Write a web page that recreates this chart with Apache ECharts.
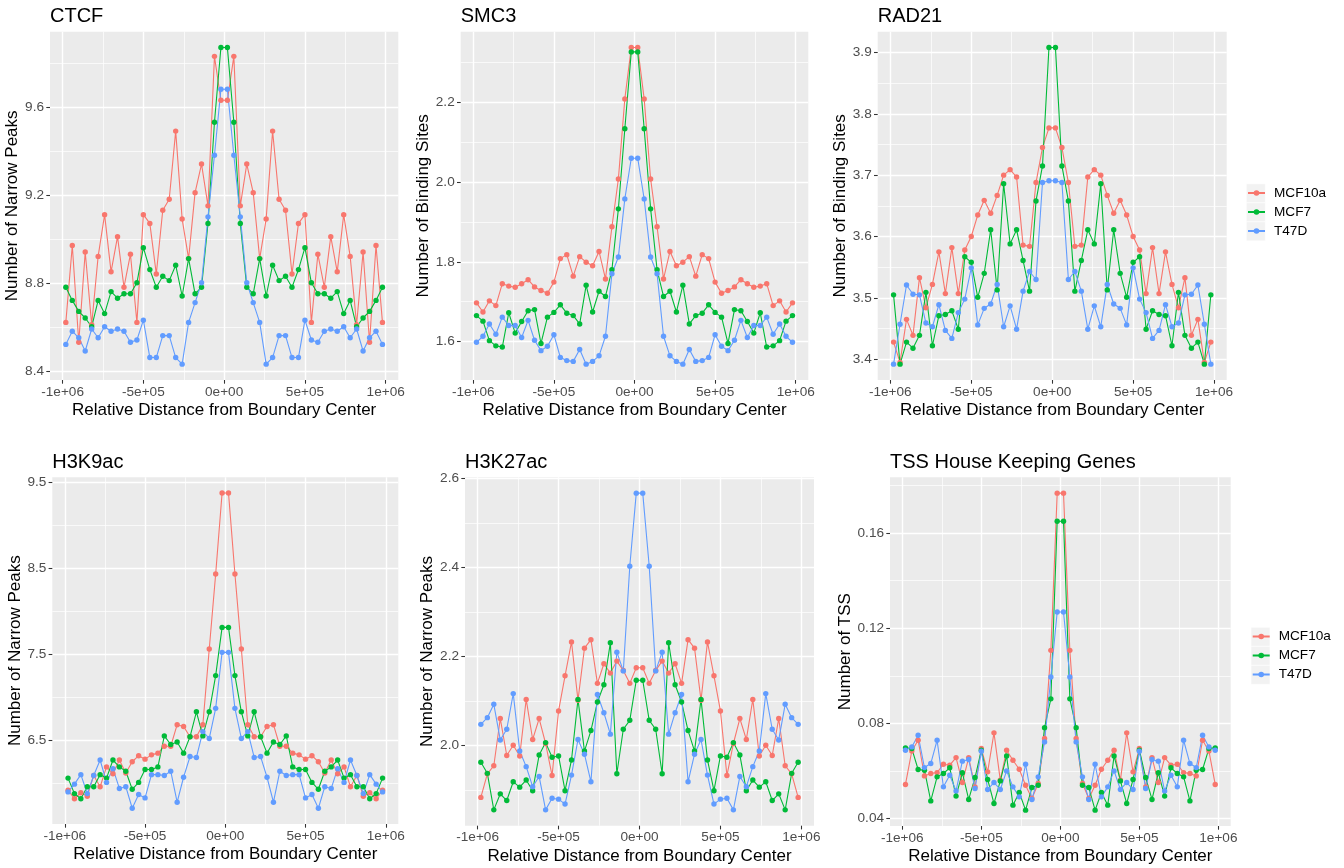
<!DOCTYPE html>
<html>
<head>
<meta charset="utf-8">
<title>Boundary profiles</title>
<script src="https://cdn.jsdelivr.net/npm/echarts@6.0.0/dist/echarts.min.js"></script>
<style>
  html, body { margin: 0; padding: 0; background: #fff; }
  #chart { width: 1344px; height: 868px; }
</style>
</head>
<body>
<div id="chart"></div>
<script>
// relative distance of each bin centre from the boundary
const distances = [-980000, -940000, -900000, -860000, -820000, -780000, -740000, -700000, -660000, -620000,
  -580000, -540000, -500000, -460000, -420000, -380000, -340000, -300000, -260000, -220000,
  -180000, -140000, -100000, -60000, -20000, 20000, 60000, 100000, 140000, 180000,
  220000, 260000, 300000, 340000, 380000, 420000, 460000, 500000, 540000, 580000,
  620000, 660000, 700000, 740000, 780000, 820000, 860000, 900000, 940000, 980000]

const cellLines = ['MCF10a', 'MCF7', 'T47D']
const colors = ['#F8766D', '#00BA38', '#619CFF']

const xTickValues = [-1000000, -500000, 0, 500000, 1000000]
const xTickLabels = ['-1e+06', '-5e+05', '0e+00', '5e+05', '1e+06']

// CTCF
const ctcfMCF10a = [8.62, 8.97, 8.53, 8.94, 8.61, 8.92, 9.11, 8.85, 9.01, 8.78, 8.93, 8.62, 9.11, 9.07, 8.84, 9.13, 9.18, 9.49, 9.09, 8.91, 9.21, 9.34, 9.15, 9.83, 9.63,
  9.63, 9.83, 9.15, 9.34, 9.21, 8.91, 9.09, 9.49, 9.18, 9.13, 8.84, 9.07, 9.11, 8.62, 8.93, 8.78, 9.01, 8.85, 9.11, 8.92, 8.61, 8.94, 8.53, 8.97, 8.62]
const ctcfMCF7 = [8.78, 8.72, 8.67, 8.64, 8.60, 8.72, 8.66, 8.76, 8.73, 8.75, 8.75, 8.80, 8.96, 8.86, 8.78, 8.83, 8.81, 8.88, 8.74, 8.91, 8.75, 8.78, 9.07, 9.53, 9.87,
  9.87, 9.53, 9.07, 8.78, 8.75, 8.91, 8.74, 8.88, 8.81, 8.83, 8.78, 8.86, 8.96, 8.80, 8.75, 8.75, 8.73, 8.76, 8.66, 8.72, 8.60, 8.64, 8.67, 8.72, 8.78]
const ctcfT47D = [8.52, 8.58, 8.55, 8.49, 8.59, 8.55, 8.60, 8.58, 8.59, 8.58, 8.53, 8.54, 8.63, 8.46, 8.46, 8.56, 8.56, 8.46, 8.43, 8.62, 8.71, 8.80, 9.10, 9.38, 9.68,
  9.68, 9.38, 9.10, 8.80, 8.71, 8.62, 8.43, 8.46, 8.56, 8.56, 8.46, 8.46, 8.63, 8.54, 8.53, 8.58, 8.59, 8.58, 8.60, 8.55, 8.59, 8.49, 8.55, 8.58, 8.52]
const ctcfTicks = ['8.4', '8.8', '9.2', '9.6']

// SMC3
const smc3MCF10a = [1.697, 1.674, 1.702, 1.690, 1.745, 1.739, 1.736, 1.745, 1.755, 1.737, 1.728, 1.721, 1.749, 1.808, 1.818, 1.764, 1.813, 1.799, 1.790, 1.826, 1.757, 1.888, 2.008, 2.209, 2.338,
  2.338, 2.209, 2.008, 1.888, 1.757, 1.826, 1.790, 1.799, 1.813, 1.764, 1.818, 1.808, 1.749, 1.721, 1.728, 1.737, 1.755, 1.745, 1.736, 1.739, 1.745, 1.690, 1.702, 1.674, 1.697]
const smc3MCF7 = [1.665, 1.651, 1.602, 1.589, 1.586, 1.672, 1.621, 1.650, 1.677, 1.680, 1.595, 1.661, 1.673, 1.692, 1.671, 1.665, 1.644, 1.741, 1.674, 1.726, 1.713, 1.780, 1.933, 2.134, 2.327,
  2.327, 2.134, 1.933, 1.780, 1.713, 1.726, 1.674, 1.741, 1.644, 1.665, 1.671, 1.692, 1.673, 1.661, 1.595, 1.680, 1.677, 1.650, 1.621, 1.672, 1.586, 1.589, 1.602, 1.651, 1.665]
const smc3T47D = [1.598, 1.613, 1.644, 1.618, 1.661, 1.640, 1.640, 1.610, 1.653, 1.603, 1.577, 1.588, 1.617, 1.560, 1.552, 1.550, 1.580, 1.543, 1.550, 1.564, 1.613, 1.770, 1.812, 1.958, 2.060,
  2.060, 1.958, 1.812, 1.770, 1.613, 1.564, 1.550, 1.543, 1.580, 1.550, 1.552, 1.560, 1.617, 1.588, 1.577, 1.603, 1.653, 1.610, 1.640, 1.640, 1.661, 1.618, 1.644, 1.613, 1.598]
const smc3Ticks = ['1.6', '1.8', '2.0', '2.2']

// RAD21
const rad21MCF10a = [3.428, 3.395, 3.465, 3.439, 3.533, 3.484, 3.522, 3.575, 3.507, 3.582, 3.507, 3.578, 3.600, 3.635, 3.659, 3.638, 3.667, 3.700, 3.709, 3.697, 3.586, 3.584, 3.688, 3.745, 3.777,
  3.777, 3.745, 3.688, 3.584, 3.586, 3.697, 3.709, 3.700, 3.667, 3.638, 3.659, 3.635, 3.600, 3.578, 3.507, 3.582, 3.507, 3.575, 3.522, 3.484, 3.533, 3.439, 3.465, 3.395, 3.428]
const rad21MCF7 = [3.505, 3.392, 3.428, 3.418, 3.439, 3.509, 3.422, 3.471, 3.473, 3.479, 3.449, 3.567, 3.558, 3.501, 3.540, 3.611, 3.513, 3.686, 3.588, 3.611, 3.561, 3.511, 3.658, 3.715, 3.908,
  3.908, 3.715, 3.658, 3.511, 3.561, 3.611, 3.588, 3.686, 3.513, 3.611, 3.540, 3.501, 3.558, 3.567, 3.449, 3.479, 3.473, 3.471, 3.422, 3.509, 3.439, 3.418, 3.428, 3.392, 3.505]
const rad21T47D = [3.392, 3.457, 3.521, 3.506, 3.505, 3.459, 3.453, 3.489, 3.447, 3.434, 3.476, 3.498, 3.549, 3.456, 3.483, 3.490, 3.522, 3.453, 3.487, 3.449, 3.511, 3.543, 3.530, 3.688, 3.691,
  3.691, 3.688, 3.530, 3.543, 3.511, 3.449, 3.487, 3.453, 3.522, 3.490, 3.483, 3.456, 3.549, 3.498, 3.476, 3.434, 3.447, 3.489, 3.453, 3.459, 3.505, 3.506, 3.521, 3.457, 3.392]
const rad21Ticks = ['3.4', '3.5', '3.6', '3.7', '3.8', '3.9']

// H3K9ac
const h3k9MCF10a = [5.92, 5.82, 5.89, 5.85, 6.09, 5.96, 6.19, 6.11, 6.27, 6.12, 6.25, 6.32, 6.28, 6.33, 6.35, 6.43, 6.43, 6.68, 6.66, 6.54, 6.54, 6.68, 7.56, 8.43, 9.37,
  9.37, 8.43, 7.56, 6.68, 6.54, 6.54, 6.66, 6.68, 6.43, 6.43, 6.35, 6.33, 6.28, 6.32, 6.25, 6.12, 6.27, 6.11, 6.19, 5.96, 6.09, 5.85, 5.89, 5.82, 5.92]
const h3k9MCF7 = [6.06, 5.88, 5.82, 5.96, 5.96, 6.10, 6.06, 6.27, 6.19, 6.14, 5.93, 6.01, 6.16, 6.16, 6.19, 6.55, 6.45, 6.48, 6.35, 6.54, 6.83, 6.55, 6.83, 7.25, 7.81,
  7.81, 7.25, 6.83, 6.55, 6.83, 6.54, 6.35, 6.48, 6.45, 6.55, 6.19, 6.16, 6.16, 6.01, 5.93, 6.14, 6.19, 6.27, 6.06, 6.10, 5.96, 5.96, 5.82, 5.88, 6.06]
const h3k9T47D = [5.90, 5.99, 6.10, 5.88, 6.09, 6.27, 6.01, 6.17, 5.94, 5.96, 5.71, 5.87, 5.83, 6.10, 6.10, 6.09, 6.14, 5.78, 6.07, 6.31, 6.30, 6.60, 6.52, 6.87, 7.52,
  7.52, 6.87, 6.52, 6.60, 6.30, 6.31, 6.07, 5.78, 6.14, 6.09, 6.10, 6.10, 5.83, 5.87, 5.71, 5.96, 5.94, 6.17, 6.01, 6.27, 6.09, 5.88, 6.10, 5.99, 5.90]
const h3k9Ticks = ['6.5', '7.5', '8.5', '9.5']

// H3K27ac
const h3k27MCF10a = [1.884, 1.937, 1.955, 2.061, 1.978, 2.001, 1.977, 2.104, 2.014, 2.061, 2.005, 1.933, 2.078, 2.157, 2.233, 2.102, 2.219, 2.238, 2.140, 2.184, 2.163, 2.190, 2.169, 2.140, 2.175,
  2.175, 2.140, 2.169, 2.190, 2.163, 2.184, 2.140, 2.238, 2.219, 2.102, 2.233, 2.157, 2.078, 1.933, 2.005, 2.061, 2.014, 2.104, 1.977, 2.001, 1.978, 2.061, 1.955, 1.937, 1.884]
const h3k27MCF7 = [1.963, 1.938, 1.856, 1.892, 1.877, 1.919, 1.907, 1.923, 1.899, 1.979, 2.007, 1.974, 1.977, 1.899, 1.968, 2.104, 1.988, 2.034, 2.098, 2.137, 2.231, 1.937, 2.037, 2.057, 2.147,
  2.147, 2.057, 2.037, 1.937, 2.231, 2.137, 2.098, 2.034, 1.988, 2.104, 1.968, 1.899, 1.977, 1.974, 2.007, 1.979, 1.899, 1.923, 1.907, 1.919, 1.877, 1.892, 1.856, 1.938, 1.963]
const h3k27T47D = [2.048, 2.063, 2.093, 2.013, 2.037, 2.117, 1.988, 1.953, 1.908, 1.931, 1.856, 1.882, 1.880, 1.869, 1.934, 2.014, 1.981, 1.919, 2.115, 2.074, 2.026, 2.210, 2.168, 2.403, 2.567,
  2.567, 2.403, 2.168, 2.210, 2.026, 2.074, 2.115, 1.919, 1.981, 2.014, 1.934, 1.869, 1.880, 1.882, 1.856, 1.931, 1.908, 1.953, 1.988, 2.117, 2.037, 2.013, 2.093, 2.063, 2.048]
const h3k27Ticks = ['2.0', '2.2', '2.4', '2.6']

// TSS of house keeping genes
const tssMCF10a = [0.0543, 0.0684, 0.0729, 0.0579, 0.0589, 0.0593, 0.0628, 0.0624, 0.0656, 0.0551, 0.0656, 0.0533, 0.0694, 0.0596, 0.0760, 0.0561, 0.0687, 0.0645, 0.0607, 0.0540, 0.0484, 0.0547, 0.0736, 0.1107, 0.1768,
  0.1768, 0.1107, 0.0736, 0.0547, 0.0484, 0.0540, 0.0607, 0.0645, 0.0687, 0.0561, 0.0760, 0.0596, 0.0694, 0.0533, 0.0656, 0.0551, 0.0656, 0.0624, 0.0628, 0.0593, 0.0589, 0.0579, 0.0729, 0.0684, 0.0543]
const tssMCF7 = [0.0697, 0.0694, 0.0606, 0.0603, 0.0474, 0.0575, 0.0589, 0.0613, 0.0494, 0.0592, 0.0480, 0.0572, 0.0687, 0.0564, 0.0463, 0.0558, 0.0663, 0.0456, 0.0509, 0.0435, 0.0530, 0.0540, 0.0782, 0.0903, 0.1650,
  0.1650, 0.0903, 0.0782, 0.0540, 0.0530, 0.0435, 0.0509, 0.0456, 0.0663, 0.0558, 0.0463, 0.0564, 0.0687, 0.0572, 0.0480, 0.0592, 0.0494, 0.0613, 0.0589, 0.0575, 0.0474, 0.0603, 0.0606, 0.0694, 0.0697]
const tssT47D = [0.0687, 0.0701, 0.0750, 0.0614, 0.0631, 0.0729, 0.0533, 0.0582, 0.0516, 0.0641, 0.0648, 0.0526, 0.0683, 0.0522, 0.0551, 0.0522, 0.0600, 0.0533, 0.0491, 0.0628, 0.0480, 0.0575, 0.0722, 0.0995, 0.1268,
  0.1268, 0.0995, 0.0722, 0.0575, 0.0480, 0.0628, 0.0491, 0.0533, 0.0600, 0.0522, 0.0551, 0.0522, 0.0683, 0.0526, 0.0648, 0.0641, 0.0516, 0.0582, 0.0533, 0.0729, 0.0631, 0.0614, 0.0750, 0.0701, 0.0687]
const tssTicks = ['0.04', '0.08', '0.12', '0.16']

const panels = [
  { title: 'CTCF', yName: 'Number of Narrow Peaks', ticks: ctcfTicks, data: [ctcfMCF10a, ctcfMCF7, ctcfT47D],
    left: 50, top: 31.7, width: 348.3, height: 348.3, nameGap: 23 },
  { title: 'SMC3', yName: 'Number of Binding Sites', ticks: smc3Ticks, data: [smc3MCF10a, smc3MCF7, smc3T47D],
    left: 460.7, top: 31.7, width: 347.6, height: 348.3, nameGap: 23 },
  { title: 'RAD21', yName: 'Number of Binding Sites', ticks: rad21Ticks, data: [rad21MCF10a, rad21MCF7, rad21T47D],
    left: 877.7, top: 31.7, width: 349, height: 348.3, nameGap: 23 },
  { title: 'H3K9ac', yName: 'Number of Narrow Peaks', ticks: h3k9Ticks, data: [h3k9MCF10a, h3k9MCF7, h3k9T47D],
    left: 52.3, top: 477.3, width: 346, height: 346.7, nameGap: 23 },
  { title: 'H3K27ac', yName: 'Number of Narrow Peaks', ticks: h3k27Ticks, data: [h3k27MCF10a, h3k27MCF7, h3k27T47D],
    left: 465, top: 477.3, width: 349, height: 348.4, nameGap: 23 },
  { title: 'TSS House Keeping Genes', yName: 'Number of TSS', ticks: tssTicks, data: [tssMCF10a, tssMCF7, tssT47D],
    left: 890, top: 477.3, width: 340.7, height: 348.7, nameGap: 31 }
]

const font = 'Liberation Sans, Arial, Helvetica, sans-serif'
const tickColor = '#333333'
const labelColor = '#4D4D4D'

// ggplot style: 5% padding on every side of the data range
function padded(lo, hi) {
  const d = (hi - lo) * 0.05
  return [lo - d, hi + d]
}

// minor breaks sit halfway between the major ones
function minorOf(major, lo, hi) {
  const step = major[1] - major[0]
  const out = []
  for (let i = -1; i < major.length; i++) {
    const v = major[0] + step * (i + 0.5)
    if (v > lo && v < hi) out.push(+v.toFixed(6))
  }
  return out
}

const xExtent = padded(distances[0], distances[distances.length - 1])
const xMinor = minorOf(xTickValues, xExtent[0], xExtent[1])

const grid = []
const xAxis = []
const yAxis = []
const title = []
const lineSeries = []
const pointSeries = []

panels.forEach((p, k) => {
  grid.push({
    left: p.left, top: p.top, width: p.width, height: p.height,
    show: true, backgroundColor: '#EBEBEB', borderWidth: 0
  })
  title.push({
    text: p.title, left: p.left, top: p.top - 25, padding: 0,
    textStyle: { fontFamily: font, fontSize: 20, fontWeight: 'normal', color: '#000' }
  })

  const all = [].concat(...p.data)
  const yExtent = padded(Math.min(...all), Math.max(...all))
  const yMajor = p.ticks.map(Number)
  const yMinor = minorOf(yMajor, yExtent[0], yExtent[1])

  // major x axis + a silent one carrying the minor grid lines
  xAxis.push({
    type: 'value', gridIndex: k, min: xExtent[0], max: xExtent[1],
    axisLine: { show: false, onZero: false },
    axisTick: { show: true, length: 3.7, customValues: xTickValues, lineStyle: { color: tickColor, width: 1.07 } },
    axisLabel: {
      customValues: xTickValues, margin: 5, color: labelColor, fontSize: 13.6, fontFamily: font,
      formatter: v => xTickLabels[xTickValues.indexOf(v)]
    },
    splitLine: { show: true, lineStyle: { color: '#FFFFFF', width: 1.4 } },
    name: 'Relative Distance from Boundary Center', nameLocation: 'middle', nameGap: 22,
    nameTextStyle: { fontFamily: font, fontSize: 17, color: '#000' }
  })
  xAxis.push({
    type: 'value', gridIndex: k, min: xExtent[0], max: xExtent[1],
    axisLine: { show: false, onZero: false }, axisLabel: { show: false },
    axisTick: { show: false, customValues: xMinor },
    splitLine: { show: true, lineStyle: { color: '#FFFFFF', width: 0.7 } }
  })

  yAxis.push({
    type: 'value', gridIndex: k, min: yExtent[0], max: yExtent[1],
    axisLine: { show: false, onZero: false },
    axisTick: { show: true, length: 3.7, customValues: yMajor, lineStyle: { color: tickColor, width: 1.07 } },
    axisLabel: {
      customValues: yMajor, margin: 6, color: labelColor, fontSize: 13.6, fontFamily: font,
      formatter: v => {
        let best = 0
        yMajor.forEach((t, i) => { if (Math.abs(t - v) < Math.abs(yMajor[best] - v)) best = i })
        return p.ticks[best]
      }
    },
    splitLine: { show: true, lineStyle: { color: '#FFFFFF', width: 1.4 } },
    name: p.yName, nameLocation: 'middle', nameRotate: 90, nameGap: p.nameGap,
    nameTextStyle: { fontFamily: font, fontSize: 17, color: '#000' }
  })
  yAxis.push({
    type: 'value', gridIndex: k, min: yExtent[0], max: yExtent[1],
    axisLine: { show: false, onZero: false }, axisLabel: { show: false },
    axisTick: { show: false, customValues: yMinor },
    splitLine: { show: true, lineStyle: { color: '#FFFFFF', width: 0.7 } }
  })

  p.data.forEach((values, s) => {
    const pts = distances.map((d, i) => [d, values[i]])
    lineSeries.push({
      type: 'line', name: cellLines[s], xAxisIndex: 2 * k, yAxisIndex: 2 * k,
      data: pts, symbol: 'none', z: 2,
      lineStyle: { color: colors[s], width: 1.1 }, itemStyle: { color: colors[s] }
    })
    pointSeries.push({
      type: 'scatter', name: cellLines[s], xAxisIndex: 2 * k, yAxisIndex: 2 * k,
      data: pts, symbol: 'circle', symbolSize: 5.4, z: 3,
      itemStyle: { color: colors[s], opacity: 1 }
    })
  })
})

function legendAt(left, top) {
  return {
    orient: 'vertical', left: left, top: top, padding: 0,
    itemWidth: 17, itemHeight: 7, itemGap: 0,
    selectedMode: false,
    data: cellLines,
    textStyle: { fontFamily: font, fontSize: 13.6, color: '#000', lineHeight: 19, padding: [0, 0, 0, 4] }
  }
}

// grey95 key backgrounds like ggplot's legend keys
function keyBoxes(left, top) {
  return cellLines.map((c, i) => ({
    type: 'rect', left: left, top: top + i * 19, z: 0,
    shape: { width: 19, height: 19 },
    style: { fill: '#F2F2F2', stroke: '#FFFFFF', lineWidth: 0.6 }
  }))
}

const chart = echarts.init(document.getElementById('chart'), null, { renderer: 'canvas' })
chart.setOption({
  animation: false,
  backgroundColor: '#FFFFFF',
  textStyle: { fontFamily: font },
  title: title,
  grid: grid,
  xAxis: xAxis,
  yAxis: yAxis,
  legend: [legendAt(1247, 183.5), legendAt(1251.7, 627)],
  graphic: keyBoxes(1246, 183.5).concat(keyBoxes(1250.7, 627)),
  series: lineSeries.concat(pointSeries)
})
</script>
</body>
</html>
